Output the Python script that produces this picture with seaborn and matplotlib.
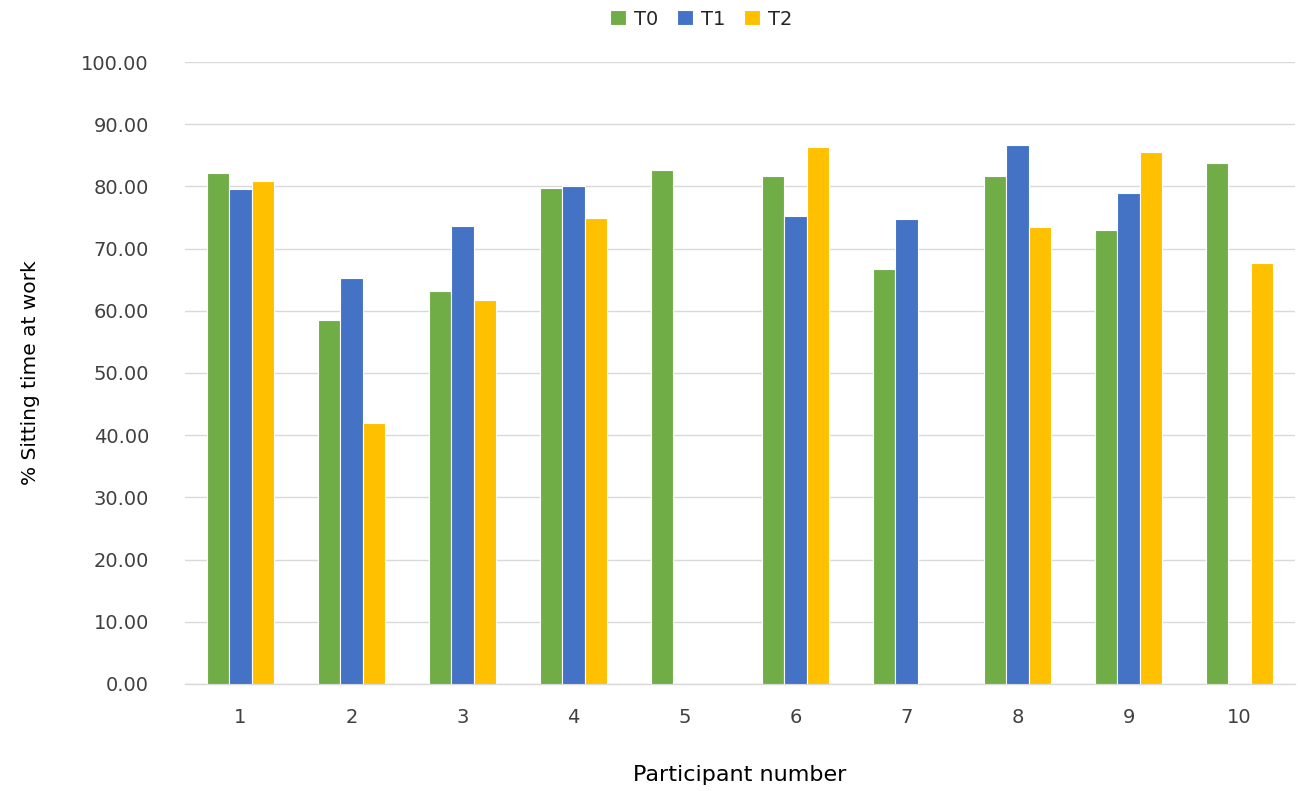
import numpy as np
import pandas as pd
import matplotlib
matplotlib.use("Agg")
import matplotlib.pyplot as plt
import seaborn as sns
from matplotlib.ticker import FormatStrFormatter

participants = ["1", "2", "3", "4", "5", "6", "7", "8", "9", "10"]
t0 = [82.1, 58.6, 63.2, 79.7, 82.7, 81.6, 66.8, 81.6, 73.0, 83.7]
t1 = [79.6, 65.2, 73.7, 80.05, np.nan, 75.2, 74.8, 86.6, 79.0, np.nan]
t2 = [80.85, 41.9, 61.8, 75.0, np.nan, 86.4, np.nan, 73.5, 85.6, 67.7]
series_names = ["T0", "T1", "T2"]
colors = ["#70AD47", "#4472C4", "#FFC000"]

rows = []
for name, vals in zip(series_names, [t0, t1, t2]):
    for p, v in zip(participants, vals):
        rows.append({"Participant": p, "Time": name, "Value": v})
df = pd.DataFrame(rows)

sns.set_theme(style="white")
plt.rcParams["font.family"] = ["DejaVu Sans"]

fig = plt.figure(figsize=(13.06, 7.91), dpi=100)
ax = fig.add_axes([0.1417, 0.1353, 0.8499, 0.7863])

sns.barplot(data=df, x="Participant", y="Value", hue="Time",
            order=participants, hue_order=series_names,
            palette=colors, saturation=1, width=0.6, errorbar=None,
            edgecolor="white", linewidth=0.8, ax=ax, zorder=3)

ax.set_ylim(0, 100)
ax.set_xlim(-0.5, 9.5)
ax.set_yticks(np.arange(0, 101, 10))
ax.yaxis.set_major_formatter(FormatStrFormatter("%.2f"))
ax.grid(axis="y", color="#D9D9D9", linewidth=1.0, zorder=0)
ax.set_axisbelow(True)
for s in ["top", "right", "left"]:
    ax.spines[s].set_visible(False)
ax.spines["bottom"].set_color("#D9D9D9")
ax.spines["bottom"].set_linewidth(1.0)
ax.tick_params(axis="both", length=0, labelsize=14, colors="#404040")
ax.tick_params(axis="x", pad=17)
ax.tick_params(axis="y", pad=26)

ax.set_xlabel("Participant number", fontsize=16, color="black", labelpad=28)
ax.set_ylabel("% Sitting time at work", fontsize=14.5, color="black", labelpad=30)

leg = ax.legend(loc="center", bbox_to_anchor=(0.465, 1.069), ncol=3,
                frameon=False, fontsize=14, handlelength=0.8, handleheight=0.8,
                columnspacing=1.0, handletextpad=0.4)

fig.savefig("out.png", dpi=100)
